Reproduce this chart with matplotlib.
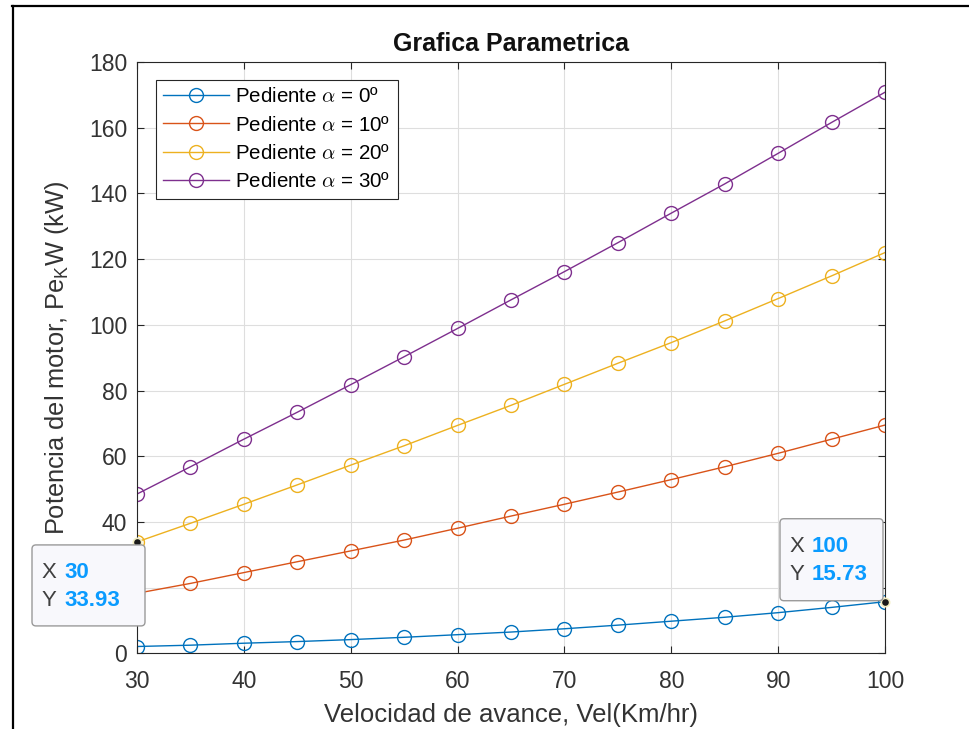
import numpy as np
import matplotlib
matplotlib.use("Agg")
import matplotlib.pyplot as plt
from matplotlib.patches import FancyBboxPatch
from matplotlib.lines import Line2D

plt.rcParams['font.family'] = ['Liberation Sans', 'DejaVu Sans']
plt.rcParams['mathtext.fontset'] = 'custom'
plt.rcParams['mathtext.rm'] = 'Liberation Sans'
plt.rcParams['mathtext.it'] = 'Liberation Sans:italic'

vel = [30, 35, 40, 45, 50, 55, 60, 65, 70, 75, 80, 85, 90, 95, 100]
p0 = [2.1, 2.5, 3.1, 3.6, 4.2, 4.9, 5.7, 6.5, 7.5, 8.6, 9.8, 11.0, 12.4, 14.0, 15.73]
p10 = [18.3, 21.3, 24.6, 27.9, 31.2, 34.5, 38.1, 41.8, 45.4, 49.1, 52.9, 56.8, 60.9, 65.2, 69.5]
p20 = [33.93, 39.6, 45.4, 51.3, 57.3, 63.2, 69.4, 75.5, 81.9, 88.3, 94.6, 101.2, 108.0, 114.9, 122.0]
p30 = [48.5, 56.8, 65.2, 73.4, 81.8, 90.3, 98.9, 107.6, 116.2, 125.0, 134.0, 142.9, 152.2, 161.6, 170.8]
series = [p0, p10, p20, p30]
labels = ['Pediente $\\alpha$ = 0º', 'Pediente $\\alpha$ = 10º',
          'Pediente $\\alpha$ = 20º', 'Pediente $\\alpha$ = 30º']
colors = ['#0072BD', '#D95319', '#EDB120', '#7E2F8E']
yticks = list(range(0, 181, 20))

# data tips: (x, y, series index)
tips = [(30, 33.93, 2), (100, 15.73, 0)]

fig = plt.figure(figsize=(9.69, 7.29), dpi=100)
ax = fig.add_axes([137/969, 1-653.4/729, 748/969, (653.4-62)/729])

for ys, lab, col in zip(series, labels, colors):
    ax.plot(vel, ys, '-o', color=col, lw=1.0, markersize=10,
            markerfacecolor='none', markeredgewidth=1.0, label=lab)

ax.set_xlim(30, 100)
ax.set_ylim(0, 180)
ax.set_xticks(range(30, 101, 10))
ax.set_yticks(yticks)
# the "20" label sits under the left data tip, as in the screenshot
ax.set_yticklabels(['' if t == 20 else str(t) for t in yticks])
ax.grid(True, color='#dedede', lw=0.8)
ax.set_axisbelow(True)
for s in ax.spines.values():
    s.set_color('#262626')
    s.set_linewidth(0.8)
ax.tick_params(direction='in', length=5, width=0.8, color='#262626',
               labelcolor='#333333', labelsize=16.5, top=True, right=True)
ax.tick_params(axis='x', pad=12)
ax.tick_params(axis='y', pad=7)

ax.set_title('Grafica Parametrica', fontsize=18, fontweight='bold',
             color='#111111', pad=8)
ax.set_xlabel('Velocidad de avance, Vel(Km/hr)', fontsize=18.5,
              color='#333333', labelpad=7)
ax.set_ylabel('Potencia del motor, Pe$_{\\mathrm{K}}$W (kW)', fontsize=18.3,
              color='#333333')
ax.yaxis.set_label_coords(-0.088, 0.5)

leg = ax.legend(loc='upper left', bbox_to_anchor=(19/748, 1-18/591.4),
                borderaxespad=0, fontsize=14.8, fancybox=False,
                edgecolor='#262626', framealpha=1, handlelength=3.2,
                handletextpad=0.3, labelspacing=0.45, borderpad=0.36)
leg.get_frame().set_linewidth(0.8)
for t in leg.get_texts():
    t.set_math_fontfamily('cm')

# data tip markers and boxes
tip_boxes = [(-105, 8, -84, -3), (-105, -2, 1, 83)]
for (tx, ty, si), (x0, x1, y0, y1) in zip(tips, tip_boxes):
    ax.plot([tx], [ty], 'o', color='#1a1a1a', markersize=6,
            markeredgecolor='#f4efc4', markeredgewidth=1.2, clip_on=False,
            zorder=5)
    px, py = ax.transData.transform((tx, ty))
    box = FancyBboxPatch((px + x0, py + y0), x1 - x0, y1 - y0,
                         boxstyle='round,pad=0,rounding_size=4',
                         transform=None, facecolor='#f8f8fc',
                         edgecolor='#9a9a9a', lw=1.0, zorder=6)
    fig.add_artist(box)
    ly1 = py + y1 - 28
    ly2 = ly1 - 28
    fig.text((px + x0 + 10) / 969, ly1 / 729, 'X', fontsize=16,
             color='#404040', va='center', zorder=7)
    fig.text((px + x0 + 10) / 969, ly2 / 729, 'Y', fontsize=16,
             color='#404040', va='center', zorder=7)
    fig.text((px + x0 + 32) / 969, ly1 / 729, '%g' % tx, fontsize=16,
             color='#0a9bff', fontweight='bold', va='center', zorder=7)
    fig.text((px + x0 + 32) / 969, ly2 / 729, '%.2f' % ty, fontsize=16,
             color='#0a9bff', fontweight='bold', va='center', zorder=7)

# screenshot frame
fig.add_artist(Line2D([12/969, 1], [1-6/729, 1-6/729], color='black', lw=1.6))
fig.add_artist(Line2D([13/969, 13/969], [0, 1-6/729], color='black', lw=1.6))

fig.savefig('out.png', dpi=100)
